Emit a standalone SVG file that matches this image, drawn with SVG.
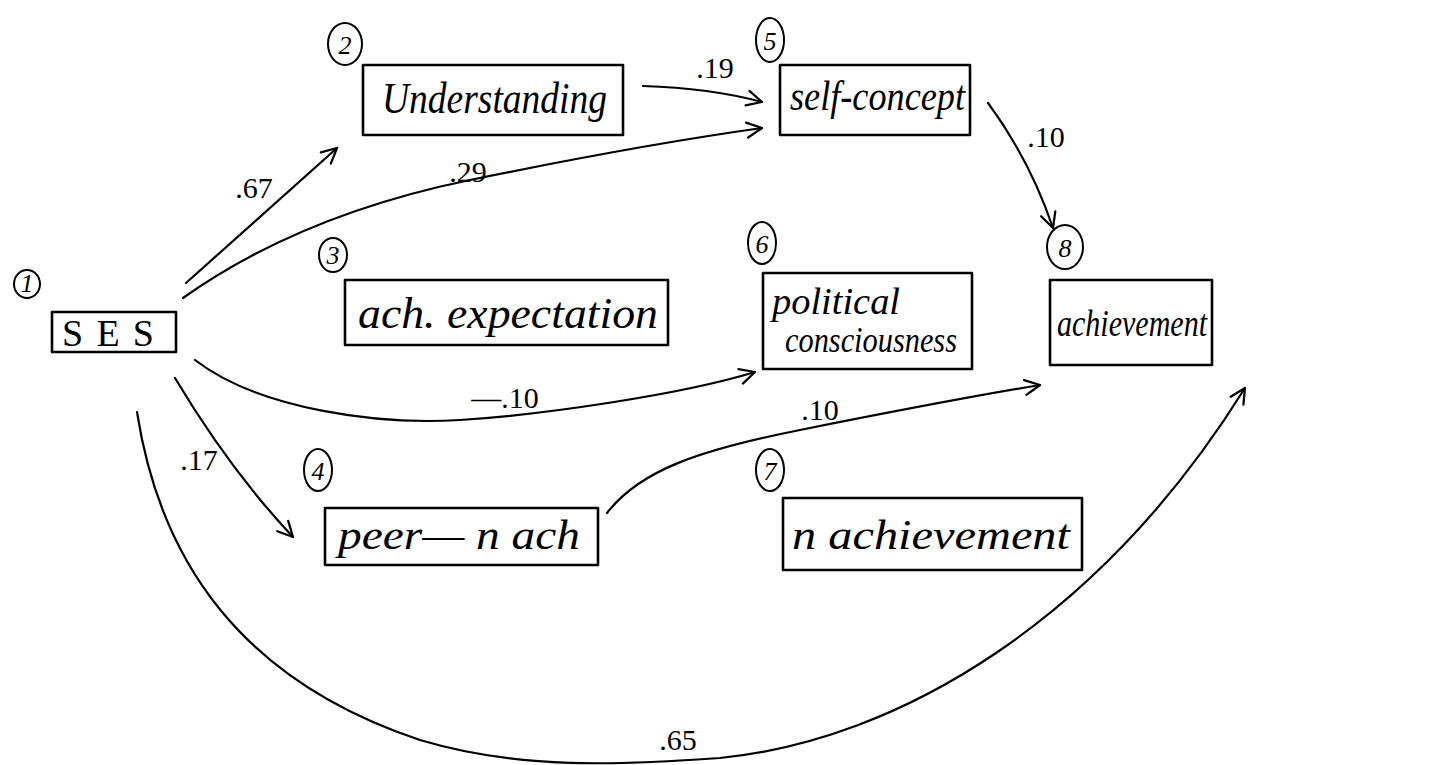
<svg xmlns="http://www.w3.org/2000/svg" width="1434" height="765" viewBox="0 0 1434 765">
<defs>
<marker id="arr" viewBox="0 0 12 12" refX="11" refY="6" markerWidth="18" markerHeight="18" markerUnits="userSpaceOnUse" orient="auto">
<path d="M1,1 L11,6 L1,11" fill="none" stroke="#000" stroke-width="1.5" stroke-linecap="round" stroke-linejoin="round"/>
</marker>
</defs>
<style>
.box{fill:none;stroke:#000;stroke-width:2.6;stroke-linejoin:round}
.num{fill:none;stroke:#000;stroke-width:2}
.lab{font-family:"Liberation Serif",serif;font-style:italic;fill:#000}
.up{font-style:normal}
.nt{font-family:"Liberation Serif",serif;font-style:italic;font-size:26px;fill:#000;text-anchor:middle}
.coef{font-family:"Liberation Serif",serif;font-size:30px;fill:#000;text-anchor:middle}
.edge{fill:none;stroke:#000;stroke-width:2.2;stroke-linecap:round;marker-end:url(#arr)}
</style>
<rect width="1434" height="765" fill="#fff"/>

<g id="n1">
<ellipse class="num" cx="27" cy="284" rx="13" ry="14"/>
<text class="nt" x="27" y="292" font-size="20">1</text>
<rect class="box" x="52" y="312" width="124" height="40"/>
<text class="lab up" x="62" y="346" font-size="38" textLength="92" lengthAdjust="spacing">SES</text>
</g>

<g id="n2">
<ellipse class="num" cx="345" cy="44" rx="17" ry="21"/>
<text class="nt" x="345" y="54">2</text>
<rect class="box" x="363" y="65" width="260" height="70"/>
<text class="lab" x="382" y="113" font-size="44" textLength="225" lengthAdjust="spacingAndGlyphs">Understanding</text>
</g>

<g id="n3">
<ellipse class="num" cx="333" cy="255" rx="14" ry="17"/>
<text class="nt" x="333" y="264">3</text>
<rect class="box" x="345" y="280" width="323" height="65"/>
<text class="lab" x="358" y="328" font-size="44" textLength="300" lengthAdjust="spacingAndGlyphs">ach. expectation</text>
</g>

<g id="n4">
<ellipse class="num" cx="318" cy="470" rx="14" ry="21"/>
<text class="nt" x="318" y="480">4</text>
<rect class="box" x="325" y="508" width="273" height="57"/>
<text class="lab" x="338" y="549" font-size="42" textLength="242" lengthAdjust="spacingAndGlyphs">peer— n ach</text>
</g>

<g id="n5">
<ellipse class="num" cx="770" cy="40" rx="14" ry="22"/>
<text class="nt" x="770" y="50">5</text>
<rect class="box" x="780" y="65" width="190" height="70"/>
<text class="lab" x="790" y="110" font-size="42" textLength="175" lengthAdjust="spacingAndGlyphs">self-concept</text>
</g>

<g id="n6">
<ellipse class="num" cx="762" cy="243" rx="14" ry="21"/>
<text class="nt" x="762" y="253">6</text>
<rect class="box" x="763" y="273" width="209" height="96"/>
<text class="lab" x="772" y="314" font-size="38" textLength="128" lengthAdjust="spacingAndGlyphs">political</text>
<text class="lab" x="785" y="352" font-size="36" textLength="172" lengthAdjust="spacingAndGlyphs">consciousness</text>
</g>

<g id="n7">
<ellipse class="num" cx="770" cy="470" rx="14" ry="21"/>
<text class="nt" x="770" y="480">7</text>
<rect class="box" x="783" y="498" width="299" height="72"/>
<text class="lab" x="792" y="549" font-size="42" textLength="278" lengthAdjust="spacingAndGlyphs">n achievement</text>
</g>

<g id="n8">
<ellipse class="num" cx="1065" cy="247" rx="18" ry="22"/>
<text class="nt" x="1065" y="257">8</text>
<rect class="box" x="1050" y="280" width="162" height="85"/>
<text class="lab" x="1057" y="336" font-size="38" textLength="150" lengthAdjust="spacingAndGlyphs">achievement</text>
</g>

<g id="connectors">
<path class="edge" d="M186,283 L337,148"/>
<path class="edge" d="M183,298 Q300,215 470,180 T762,128"/>
<path class="edge" d="M643,86 Q710,88 762,102"/>
<path class="edge" d="M988,103 Q1030,160 1053,228"/>
<path class="edge" d="M195,360 C260,410 380,425 460,420 S680,395 755,372"/>
<path class="edge" d="M175,378 Q230,470 293,537"/>
<path class="edge" d="M607,513 C640,470 700,450 800,430 S980,395 1040,385"/>
<path class="edge" d="M137,412 C160,560 240,680 420,740 C520,770 620,765 720,758 C900,740 1100,620 1245,388"/>
<text class="coef" x="254" y="198">.67</text>
<text class="coef" x="468" y="182">.29</text>
<text class="coef" x="715" y="78">.19</text>
<text class="coef" x="1046" y="147">.10</text>
<text class="coef" x="505" y="408">—.10</text>
<text class="coef" x="199" y="470">.17</text>
<text class="coef" x="820" y="420">.10</text>
<text class="coef" x="678" y="750">.65</text>
</g>
</svg>
